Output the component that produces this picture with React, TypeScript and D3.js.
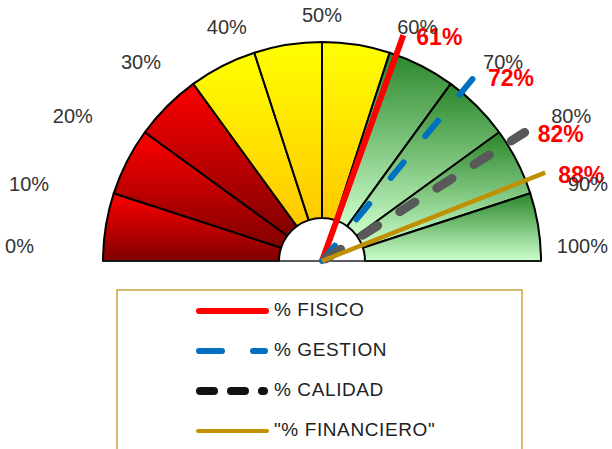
import React from "react";
import * as d3 from "d3";

// datos del indicador
const TICKS = [0, 10, 20, 30, 40, 50, 60, 70, 80, 90, 100];
const TICK_LABELS = ["0%", "10%", "20%", "30%", "40%", "50%", "60%", "70%", "80%", "90%", "100%"];
const SEGMENT_ZONES = ["rojo", "rojo", "rojo", "amarillo", "amarillo", "amarillo", "verde", "verde", "verde", "verde"];
const SERIES_NAMES = ["% FISICO", "% GESTION", "% CALIDAD", "\"% FINANCIERO\""];
const SERIES_VALUES = [61, 72, 82, 88];
const SERIES_LABELS = ["61%", "72%", "82%", "88%"];

const W = 612;
const H = 449;

// estilos de las agujas (grafico) y de la leyenda
const NEEDLE_STYLE = [
  { color: "#ff0000", width: 6, dash: null as string | null, cap: "butt", offset: 0 },
  { color: "#0070c0", width: 6, dash: "20 34", cap: "round", offset: 0 },
  { color: "#595959", width: 9, dash: "18 26", cap: "round", offset: -4 },
  { color: "#bf9000", width: 4.5, dash: null as string | null, cap: "butt", offset: 0 },
];
const LEGEND_STYLE = [
  { color: "#ff0000", width: 6, dash: null as string | null, x1: 199, x2: 266 },
  { color: "#0070c0", width: 6, dash: "23 31", x1: 199, x2: 265 },
  { color: "#111111", width: 8, dash: "14 17", x1: 200, x2: 264 },
  { color: "#bf9000", width: 4, dash: null as string | null, x1: 198, x2: 267 },
];

const GRADS: Record<string, [string, string]> = {
  rojo: ["#ff0000", "#800000"],
  amarillo: ["#ffff00", "#ffc800"],
  verde: ["#2a862a", "#ccffcc"],
};

const FONT = '"Liberation Sans", Arial, sans-serif';

export default function App() {
  const cx = 322;
  const cy = 261;
  const outerR = 219;
  const innerR = 43;
  const needleR = 240;

  const angle = d3.scaleLinear().domain([0, 100]).range([-Math.PI / 2, Math.PI / 2]);

  const arcGen = d3
    .arc<{ a0: number; a1: number }>()
    .innerRadius(innerR)
    .outerRadius(outerR)
    .startAngle((d) => angle(d.a0))
    .endAngle((d) => angle(d.a1));

  const segments = SEGMENT_ZONES.map((z, i) => ({ zone: z, a0: TICKS[i], a1: TICKS[i + 1] }));

  // etiquetas de escala en elipse alrededor del semicirculo
  const tickFont = 20;
  const rx = 288;
  const ry = 234;
  const tickPos = TICKS.map((t, i) => {
    const a = angle(t);
    const s = Math.sin(a);
    const c = Math.cos(a);
    const label = TICK_LABELS[i];
    const digits = label.length - 1;
    const w = tickFont * (0.556 * digits + 0.889);
    const h = tickFont;
    let x = cx + rx * s + (w / 2) * s;
    let y = cy - ry * c - (h / 2) * c;
    x = Math.min(x, W - w / 2 - 4);
    x = Math.max(x, w / 2 + 4);
    y = Math.min(y, cy - 13);
    return { x, y, label };
  });

  return (
    <svg
      width={W}
      height={H}
      viewBox={`0 0 ${W} ${H}`}
      style={{ position: "absolute", left: 0, top: 0, display: "block", background: "#fff" }}
    >
      <defs>
        {Object.entries(GRADS).map(([k, [c0, c1]]) => (
          <linearGradient key={k} id={`g-${k}`} x1="0" y1="0" x2="0" y2="1">
            <stop offset="0%" stopColor={c0} />
            <stop offset="100%" stopColor={c1} />
          </linearGradient>
        ))}
      </defs>

      <g transform={`translate(${cx},${cy})`}>
        {segments.map((d, i) => (
          <path
            key={i}
            d={arcGen(d) || ""}
            fill={`url(#g-${d.zone})`}
            stroke="#000"
            strokeWidth={2}
            strokeLinejoin="round"
          />
        ))}
        <line x1={-outerR} x2={outerR} y1={0} y2={0} stroke="#222" strokeWidth={1.5} />

        {SERIES_VALUES.map((v, i) => {
          const a = angle(v);
          const st = NEEDLE_STYLE[i];
          return (
            <line
              key={i}
              x1={0}
              y1={0}
              x2={needleR * Math.sin(a)}
              y2={-needleR * Math.cos(a)}
              stroke={st.color}
              strokeWidth={st.width}
              strokeDasharray={st.dash || undefined}
              strokeDashoffset={st.offset}
              strokeLinecap={st.cap as any}
            />
          );
        })}

        {SERIES_VALUES.map((v, i) => {
          const a = angle(v);
          return (
            <text
              key={i}
              x={needleR * Math.sin(a) + 13}
              y={-needleR * Math.cos(a) + 4}
              dominantBaseline="middle"
              fontFamily={FONT}
              fontWeight={700}
              fontSize={23}
              fill="#ff0000"
            >
              {SERIES_LABELS[i]}
            </text>
          );
        })}
      </g>

      {tickPos.map((p, i) => (
        <text
          key={i}
          x={p.x}
          y={p.y}
          textAnchor="middle"
          dominantBaseline="middle"
          fontFamily={FONT}
          fontSize={tickFont}
          fill="#333"
        >
          {p.label}
        </text>
      ))}

      {/* leyenda */}
      <rect x={117} y={290} width={405} height={175} fill="#fff" stroke="#c9a43a" strokeWidth={1.5} />
      {SERIES_NAMES.map((name, i) => {
        const y = 311 + i * 40;
        const st = LEGEND_STYLE[i];
        return (
          <g key={i}>
            <line
              x1={st.x1}
              x2={st.x2}
              y1={y}
              y2={y}
              stroke={st.color}
              strokeWidth={st.width}
              strokeDasharray={st.dash || undefined}
              strokeLinecap="round"
            />
            <text
              x={274}
              y={y}
              dominantBaseline="middle"
              fontFamily={FONT}
              fontSize={19}
              letterSpacing={0.6}
              fill="#222"
            >
              {name}
            </text>
          </g>
        );
      })}
    </svg>
  );
}
